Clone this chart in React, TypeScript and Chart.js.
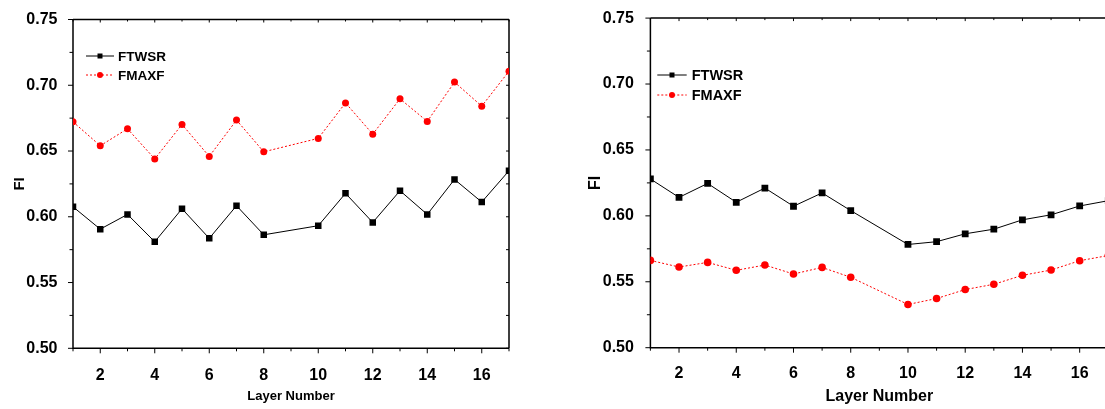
import React, { useEffect, useRef } from "react";
import { Chart, registerables } from "chart.js";

Chart.register(...registerables);

// ---- Data ----
const leftLayers = [1, 2, 3, 4, 5, 6, 7, 8, 10, 11, 12, 13, 14, 15, 16, 17];
const leftFTWSR = [0.6076, 0.5906, 0.6018, 0.581, 0.6061, 0.5836, 0.6084, 0.5863, 0.5932, 0.6178, 0.5957, 0.6198, 0.6018, 0.6284, 0.6112, 0.635];
const leftFMAXF = [0.6722, 0.654, 0.6669, 0.644, 0.6702, 0.6459, 0.6735, 0.6494, 0.6596, 0.6866, 0.6628, 0.6897, 0.6725, 0.7024, 0.6841, 0.7107];

const rightLayers = [1, 2, 3, 4, 5, 6, 7, 8, 10, 11, 12, 13, 14, 15, 16, 17];
const rightFTWSR = [0.628, 0.614, 0.6246, 0.6103, 0.6211, 0.6073, 0.6174, 0.604, 0.5783, 0.5804, 0.5864, 0.5899, 0.597, 0.6008, 0.6075, 0.6115];
const rightFMAXF = [0.5662, 0.5612, 0.5647, 0.5587, 0.5627, 0.5559, 0.5609, 0.5534, 0.5328, 0.5373, 0.5441, 0.5481, 0.5549, 0.5589, 0.566, 0.5699];

const seriesNames = ["FTWSR", "FMAXF"];
const xTickValues = [1, 2, 3, 4, 5, 6, 7, 8, 9, 10, 11, 12, 13, 14, 15, 16, 17];
const yTickValues = [0.5, 0.55, 0.6, 0.65, 0.7, 0.75];
const xAxisTitle = "Layer Number";
const yAxisTitle = "FI";

const FONT = "'Liberation Sans', Arial, Helvetica, sans-serif";

const framePlugin = {
  id: "frame",
  beforeDatasetsDraw(chart: any, _args: any, opts: any) {
    const { ctx, chartArea: a, scales } = chart;
    const x = scales.x;
    const y = scales.y;
    ctx.save();
    ctx.strokeStyle = "#000";
    ctx.lineWidth = opts.lw || 1.5;
    ctx.beginPath();
    ctx.moveTo(a.left, a.top);
    ctx.lineTo(a.left, a.bottom);
    ctx.lineTo(a.right, a.bottom);
    ctx.moveTo(a.left, a.top);
    ctx.lineTo(a.right, a.top);
    if (opts.rightBorder) {
      ctx.moveTo(a.right, a.top);
      ctx.lineTo(a.right, a.bottom);
    }
    ctx.stroke();
    ctx.lineWidth = 1;
    ctx.beginPath();
    for (const v of xTickValues) {
      const px = x.getPixelForValue(v);
      const major = v % 2 === 0;
      ctx.moveTo(px, a.bottom);
      ctx.lineTo(px, a.bottom + (major ? 5 : 3));
      ctx.moveTo(px, a.top);
      ctx.lineTo(px, a.top + (major ? 3 : 2));
    }
    for (let i = 0; i <= 10; i++) {
      const v = 0.5 + i * 0.025;
      const py = y.getPixelForValue(v);
      const major = i % 2 === 0;
      ctx.moveTo(a.left, py);
      ctx.lineTo(a.left - (major ? 5 : 3.5), py);
      if (opts.rightBorder) {
        ctx.moveTo(a.right, py);
        ctx.lineTo(a.right - 3, py);
      }
    }
    ctx.stroke();
    ctx.restore();
  },
  afterDatasetsDraw(chart: any, _args: any, opts: any) {
    const { ctx } = chart;
    const L = opts.legend;
    if (!L) return;
    ctx.save();
    const rows = [
      { name: seriesNames[0], color: "#000", dash: [], marker: "rect", y: L.y0 },
      { name: seriesNames[1], color: "#ff0000", dash: [2, 2], marker: "circle", y: L.y1 },
    ];
    for (const r of rows) {
      ctx.strokeStyle = r.color;
      ctx.fillStyle = r.color;
      ctx.lineWidth = 1;
      ctx.setLineDash(r.dash);
      ctx.beginPath();
      ctx.moveTo(L.x0, r.y);
      ctx.lineTo(L.x1, r.y);
      ctx.stroke();
      ctx.setLineDash([]);
      const mx = (L.x0 + L.x1) / 2;
      ctx.beginPath();
      if (r.marker === "rect") {
        ctx.rect(mx - 2.5, r.y - 2.5, 5, 5);
      } else {
        ctx.arc(mx, r.y, 3, 0, Math.PI * 2);
      }
      ctx.fill();
      ctx.fillStyle = "#000";
      ctx.font = `bold ${L.size}px ${FONT}`;
      ctx.textBaseline = "middle";
      ctx.textAlign = "left";
      ctx.fillText(r.name, L.tx, r.y + 1);
    }
    ctx.restore();
  },
};

type Spec = {
  layers: number[];
  ftwsr: number[];
  fmaxf: number[];
  width: number;
  height: number;
  xMax: number;
  padTop: number;
  padRight: number;
  yWidth: number;
  xHeight: number;
  yTitleSize: number;
  yTitlePad: number;
  xTitleSize: number;
  xTitlePad: number;
  xTickPad: number;
  yTickPad: number;
  rightBorder: boolean;
  markerR: number;
  circleR: number;
  legend: any;
};

function makeConfig(s: Spec): any {
  return {
    type: "line",
    data: {
      datasets: [
        {
          label: seriesNames[0],
          data: s.layers.map((l, i) => ({ x: l, y: s.ftwsr[i] })),
          borderColor: "#000",
          backgroundColor: "#000",
          borderWidth: 1,
          pointStyle: "rect",
          pointRadius: s.markerR,
          pointBorderWidth: 0,
          pointBackgroundColor: "#000",
          tension: 0,
          clip: 0,
        },
        {
          label: seriesNames[1],
          data: s.layers.map((l, i) => ({ x: l, y: s.fmaxf[i] })),
          borderColor: "#ff0000",
          backgroundColor: "#ff0000",
          borderWidth: 1,
          borderDash: [2, 2],
          pointStyle: "circle",
          pointRadius: s.circleR,
          pointBorderWidth: 0,
          pointBackgroundColor: "#ff0000",
          tension: 0,
          clip: 0,
        },
      ],
    },
    options: {
      animation: false,
      responsive: false,
      maintainAspectRatio: false,
      layout: { padding: { left: 0, right: s.padRight, top: s.padTop, bottom: 0 } },
      plugins: {
        legend: { display: false },
        tooltip: { enabled: false },
        frame: { rightBorder: s.rightBorder, lw: 1.5, legend: s.legend },
      },
      scales: {
        x: {
          type: "linear",
          min: 1,
          max: s.xMax,
          grid: { display: false },
          border: { display: false },
          afterBuildTicks: (sc: any) => {
            sc.ticks = xTickValues.filter((v) => v <= s.xMax).map((v) => ({ value: v }));
          },
          ticks: {
            autoSkip: false,
            maxRotation: 0,
            padding: s.xTickPad,
            color: "#000",
            font: { family: FONT, size: 16, weight: "bold" },
            callback: (v: number) => (Number.isInteger(v) && v % 2 === 0 ? String(v) : ""),
          },
          title: {
            display: true,
            text: xAxisTitle,
            color: "#000",
            font: { family: FONT, size: s.xTitleSize, weight: "bold" },
            padding: { top: 0, bottom: s.xTitlePad },
          },
          afterFit: (sc: any) => {
            sc.height = s.xHeight;
          },
        },
        y: {
          type: "linear",
          min: 0.5,
          max: 0.75,
          grid: { display: false },
          border: { display: false },
          afterBuildTicks: (sc: any) => {
            sc.ticks = yTickValues.map((v) => ({ value: v }));
          },
          ticks: {
            padding: s.yTickPad,
            color: "#000",
            font: { family: FONT, size: 16, weight: "bold" },
            callback: (v: number) => Number(v).toFixed(2),
          },
          title: {
            display: true,
            text: yAxisTitle,
            color: "#000",
            font: { family: FONT, size: s.yTitleSize, weight: "bold" },
            padding: { top: s.yTitlePad, bottom: 0 },
          },
          afterFit: (sc: any) => {
            sc.width = s.yWidth;
          },
        },
      },
    },
    plugins: [framePlugin],
  };
}

const leftSpec: Spec = {
  layers: leftLayers,
  ftwsr: leftFTWSR,
  fmaxf: leftFMAXF,
  width: 560,
  height: 409,
  xMax: 17,
  padTop: 19.5,
  padRight: 51,
  yWidth: 73,
  xHeight: 60.7,
  yTitleSize: 15,
  yTitlePad: 10.5,
  xTitleSize: 13,
  xTitlePad: 4.5,
  xTickPad: 9.6,
  yTickPad: 7.5,
  rightBorder: true,
  markerR: 4.6,
  circleR: 3.5,
  legend: { x0: 86, x1: 114, tx: 118, y0: 56, y1: 75, size: 13.5 },
};

const rightSpec: Spec = {
  layers: rightLayers,
  ftwsr: rightFTWSR,
  fmaxf: rightFMAXF,
  width: 600,
  height: 409,
  xMax: 17,
  padTop: 16.7,
  padRight: 51.7,
  yWidth: 90.4,
  xHeight: 61.3,
  yTitleSize: 16,
  yTitlePad: 26.4,
  xTitleSize: 16,
  xTitlePad: 2.4,
  xTickPad: 8.7,
  yTickPad: 8.5,
  rightBorder: false,
  markerR: 4.8,
  circleR: 3.8,
  legend: { x0: 97.3, x1: 126.7, tx: 131.7, y0: 75, y1: 95, size: 14.5 },
};

function ChartCanvas({ spec, left }: { spec: Spec; left: number }) {
  const ref = useRef<HTMLCanvasElement | null>(null);
  useEffect(() => {
    if (!ref.current) return;
    const chart = new Chart(ref.current, makeConfig(spec));
    return () => chart.destroy();
  }, [spec]);
  return (
    <canvas
      ref={ref}
      width={spec.width}
      height={spec.height}
      style={{ position: "absolute", left, top: 0, width: spec.width, height: spec.height }}
    />
  );
}

export default function App() {
  return (
    <div
      style={{
        position: "fixed",
        left: 0,
        top: 0,
        width: 1105,
        height: 409,
        background: "#fff",
        overflow: "hidden",
      }}
    >
      <ChartCanvas spec={leftSpec} left={0} />
      <ChartCanvas spec={rightSpec} left={560} />
    </div>
  );
}
